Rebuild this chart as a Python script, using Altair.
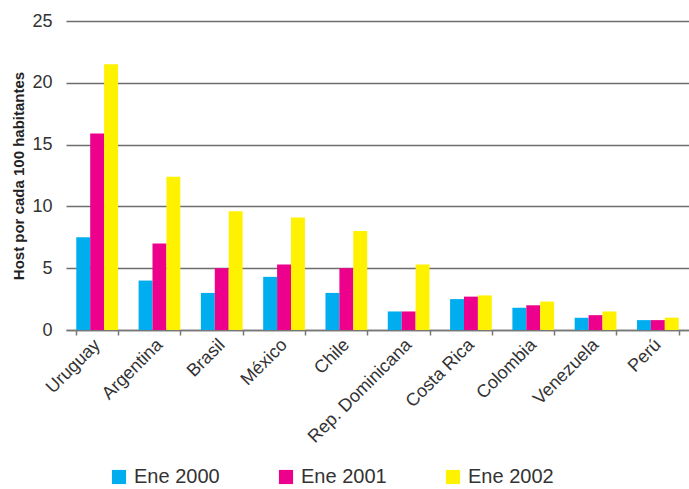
import altair as alt
import pandas as pd

countries = ["Uruguay", "Argentina", "Brasil", "México", "Chile",
             "Rep. Dominicana", "Costa Rica", "Colombia", "Venezuela", "Perú"]
series = ["Ene 2000", "Ene 2001", "Ene 2002"]
ene2000 = [7.5, 4.0, 3.0, 4.3, 3.0, 1.5, 2.5, 1.8, 1.0, 0.8]
ene2001 = [15.9, 7.0, 5.0, 5.3, 5.0, 1.5, 2.7, 2.0, 1.2, 0.8]
ene2002 = [21.5, 12.4, 9.6, 9.1, 8.0, 5.3, 2.8, 2.3, 1.5, 1.0]
colors = ["#00AEEF", "#EC008C", "#FFF200"]

rows = []
for s, vals in zip(series, [ene2000, ene2001, ene2002]):
    for c, v in zip(countries, vals):
        rows.append({"pais": c, "serie": s, "valor": v})
df = pd.DataFrame(rows)

FONT = "Liberation Sans"

chart = alt.Chart(df).mark_bar().encode(
    x=alt.X("pais:N", sort=countries, title=None,
            scale=alt.Scale(paddingInner=0.33, paddingOuter=0.165),
            axis=alt.Axis(labelAngle=-45, labelAlign="right", labelBaseline="middle",
                          labelFontSize=18, labelColor="#333333", labelPadding=7,
                          tickBand="extent", tickColor="#777777", tickSize=5, tickWidth=1.5,
                          domainColor="#777777", domainWidth=1.5, grid=False,
                          labelFont=FONT)),
    xOffset=alt.XOffset("serie:N", sort=series, scale=alt.Scale(paddingInner=0, paddingOuter=0)),
    y=alt.Y("valor:Q", title="Host por cada 100 habitantes",
            scale=alt.Scale(domain=[0, 25], nice=False),
            axis=alt.Axis(values=[0, 5, 10, 15, 20, 25], grid=True, gridColor="#6e6e6e",
                          gridWidth=1.5, domain=False, ticks=False,
                          labelFontSize=18, labelColor="#333333", labelPadding=14,
                          labelFont=FONT, titleFont=FONT, titleFontSize=15,
                          titleFontWeight="bold", titleColor="#222222", titlePadding=5)),
    color=alt.Color("serie:N", sort=series,
                    scale=alt.Scale(domain=series, range=colors),
                    legend=alt.Legend(title=None, orient="none", legendX=43, legendY=446,
                                      direction="horizontal", symbolType="square",
                                      symbolSize=200, symbolStrokeWidth=0,
                                      labelFontSize=20, labelColor="#333333",
                                      labelFont=FONT, columnPadding=56, labelOffset=5)),
).properties(
    width=623, height=309,
    background="white",
    autosize=alt.AutoSizeParams(type="none"),
    padding={"left": 66, "top": 21, "right": 0, "bottom": 159},
).configure_view(stroke=None)

chart.save("out.html", embed_options={"renderer": "svg", "actions": False})
